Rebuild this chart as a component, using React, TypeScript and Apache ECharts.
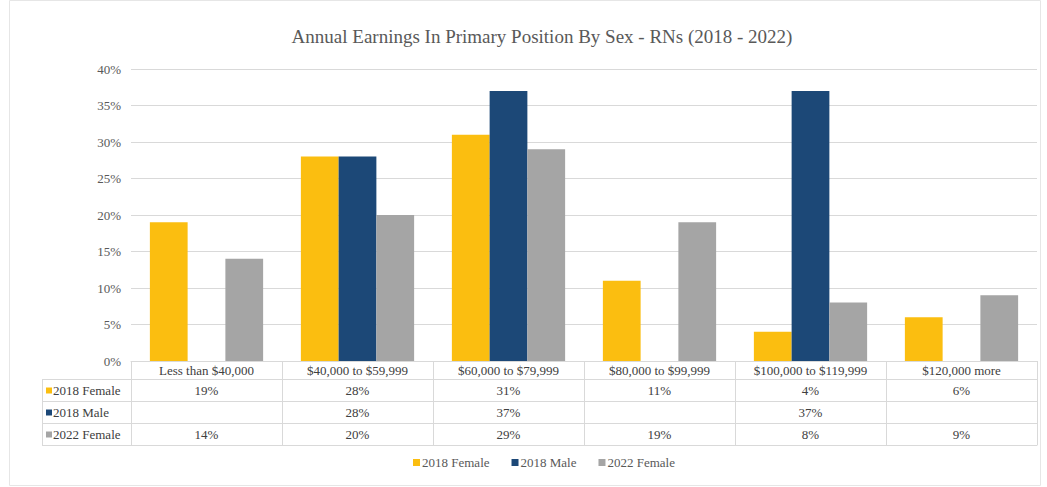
import React, { useEffect, useRef } from "react";
import * as echarts from "echarts";

const titleText = "Annual Earnings In Primary Position By Sex - RNs (2018 - 2022)";
const categories = [
  "Less than $40,000",
  "$40,000 to $59,999",
  "$60,000 to $79,999",
  "$80,000 to $99,999",
  "$100,000 to $119,999",
  "$120,000 more",
];
const seriesNames = ["2018 Female", "2018 Male", "2022 Female"];
const female2018 = [19, 28, 31, 11, 4, 6];
const male2018 = [null, 28, 37, null, 37, null];
const female2022 = [14, 20, 29, 19, 8, 9];
const seriesValues = [female2018, male2018, female2022];
const colors = ["#FBBE10", "#1C4877", "#A5A5A5"];
const yTicks = [0, 40, 5];

const FONT = "'Liberation Serif', 'Times New Roman', serif";
const TEXT = "#404040";
const LINE = "#D9D9D9";

export default function App() {
  const ref = useRef<HTMLDivElement>(null);
  useEffect(() => {
    if (!ref.current) return;
    const chart = echarts.init(ref.current, undefined, { renderer: "svg" });
    const gridLeft = 131;
    const gridRight = 10;
    const gridTop = 69;
    const gridBottom = 126;
    const axisY = 487 - gridBottom;
    const rowH = 22;
    const headH = 18;
    const tableLeft = 42;

    const rowAxes = seriesValues.map((vals, i) => ({
      type: "category",
      gridIndex: 0,
      position: "bottom",
      offset: headH + i * rowH,
      data: vals.map((v) => (v == null ? "" : v + "%")),
      axisLine: { show: true, lineStyle: { color: LINE, width: 1 } },
      axisTick: { show: false },
      axisLabel: { interval: 0, margin: 5, fontFamily: FONT, fontSize: 13, color: TEXT },
      splitLine: { show: false },
    }));

    const leftGraphics: any[] = [];
    for (let i = 0; i <= seriesNames.length; i++) {
      const y = axisY + headH + i * rowH + 0.5;
      leftGraphics.push({
        type: "line",
        shape: { x1: tableLeft, y1: y, x2: gridLeft, y2: y },
        style: { stroke: LINE, lineWidth: 1 },
      });
    }
    leftGraphics.push({
      type: "line",
      shape: {
        x1: tableLeft + 0.5,
        y1: axisY + headH,
        x2: tableLeft + 0.5,
        y2: axisY + headH + seriesNames.length * rowH,
      },
      style: { stroke: LINE, lineWidth: 1 },
    });
    seriesNames.forEach((name, i) => {
      const cy = axisY + headH + i * rowH + rowH / 2 + 0.5;
      leftGraphics.push({
        type: "rect",
        shape: { x: tableLeft + 4, y: cy - 3, width: 6, height: 6 },
        style: { fill: colors[i] },
      });
      leftGraphics.push({
        type: "text",
        x: tableLeft + 11,
        y: cy,
        style: {
          text: name,
          font: "13px 'Liberation Serif', serif",
          fontFamily: "Liberation Serif",
          fontSize: 13,
          fill: TEXT,
          verticalAlign: "middle",
          textAlign: "left",
        },
      });
    });

    chart.setOption({
      animation: false,
      backgroundColor: "#FFFFFF",
      textStyle: { fontFamily: FONT },
      title: {
        text: titleText,
        left: 537,
        top: 22,
        textAlign: "center",
        textStyle: { fontFamily: FONT, fontSize: 19, fontWeight: "normal", color: "#595959" },
      },
      legend: {
        data: seriesNames,
        bottom: 13,
        left: 408,
        icon: "rect",
        itemWidth: 7,
        itemHeight: 7,
        itemGap: 22,
        textStyle: { fontFamily: FONT, fontSize: 13, color: "#595959", padding: [0, 0, 0, -3] },
      },
      grid: { left: gridLeft, right: gridRight, top: gridTop, bottom: gridBottom, containLabel: false },
      xAxis: [
        {
          type: "category",
          data: categories,
          position: "bottom",
          axisLine: { show: true, lineStyle: { color: LINE, width: 1 } },
          axisTick: { show: true, length: headH + seriesNames.length * rowH, lineStyle: { color: LINE } },
          axisLabel: { interval: 0, margin: 3, fontFamily: FONT, fontSize: 13, color: TEXT },
          splitLine: { show: false },
        },
        ...rowAxes,
        {
          type: "category",
          position: "bottom",
          offset: headH + seriesNames.length * rowH,
          data: categories,
          axisLine: { show: true, lineStyle: { color: LINE, width: 1 } },
          axisTick: { show: false },
          axisLabel: { show: false },
        },
      ],
      yAxis: {
        type: "value",
        min: yTicks[0],
        max: yTicks[1],
        interval: yTicks[2],
        axisLine: { show: false },
        axisTick: { show: false },
        axisLabel: { formatter: "{value}%", fontFamily: FONT, fontSize: 13, color: "#595959", margin: 10 },
        splitLine: { lineStyle: { color: LINE, width: 1 } },
      },
      series: seriesNames.map((name, i) => ({
        name,
        type: "bar",
        data: seriesValues[i],
        itemStyle: { color: colors[i] },
        barGap: "0%",
        barCategoryGap: "25%",
      })),
      graphic: [
        {
          type: "rect",
          shape: { x: 9.5, y: 0.5, width: 1031, height: 485 },
          style: { fill: "none", stroke: "#E6E6E6", lineWidth: 1 },
          silent: true,
        },
        ...leftGraphics,
      ],
    });
    return () => chart.dispose();
  }, []);
  return (
    <div
      ref={ref}
      style={{ position: "fixed", left: 0, top: 0, width: 1047, height: 487 }}
    />
  );
}
